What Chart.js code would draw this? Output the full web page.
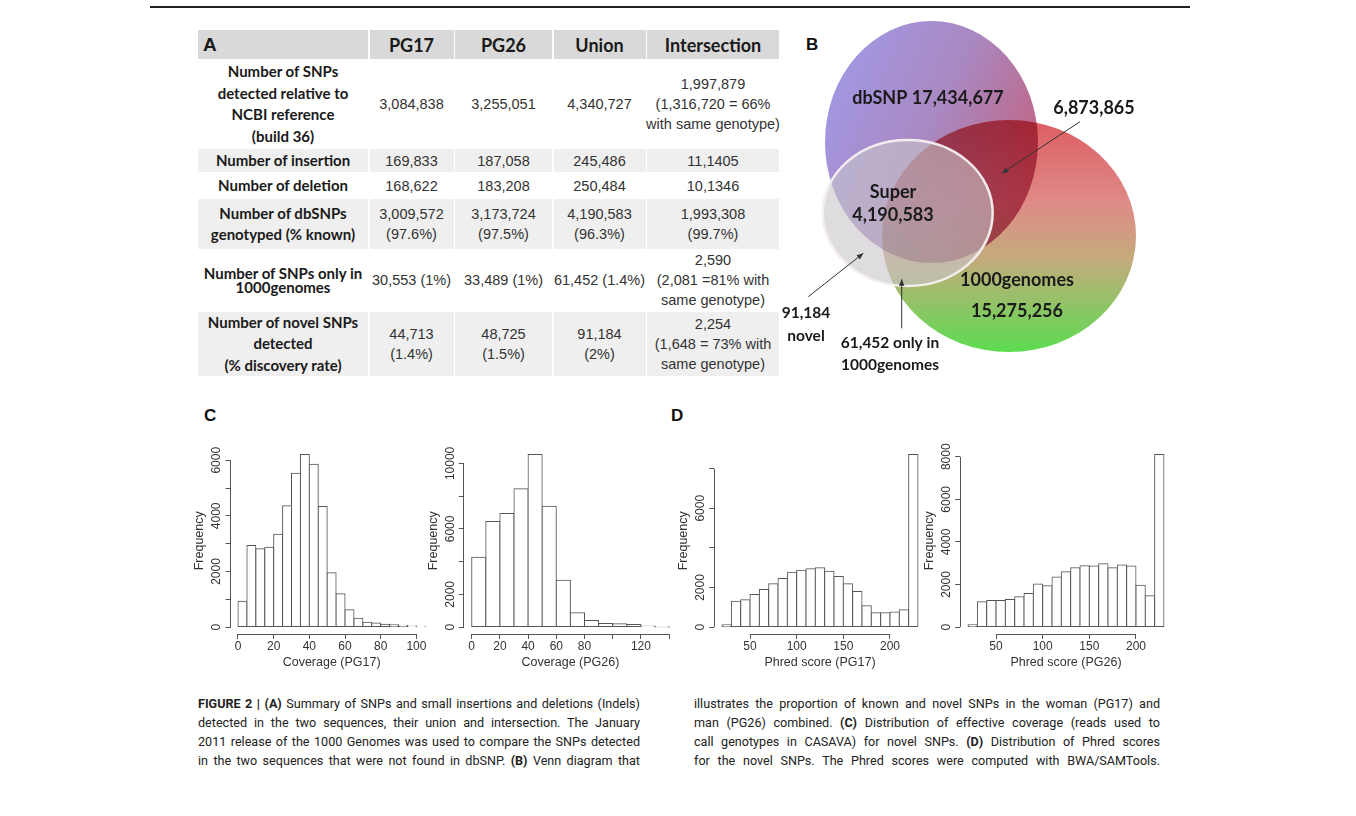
<!DOCTYPE html>
<html lang="en">
<head>
<meta charset="utf-8">
<title>Figure 2</title>
<script src="https://cdn.jsdelivr.net/npm/chart.js@4.4.1/dist/chart.umd.min.js"></script>
<style>
  html, body { margin: 0; padding: 0; background: #fff; }
  body { position: relative; width: 1356px; height: 816px; overflow: hidden; font-family: "Liberation Sans", Arial, sans-serif; color: #222; }
  #topRule { position: absolute; left: 150px; top: 6px; width: 1040px; height: 1.5px; background: #222; }
  #tableA { position: absolute; left: 198px; top: 30px; display: grid;
    grid-template-columns: 170px 84px 97px 92px 132px;
    grid-template-rows: 29px 88px 23px 24.5px 49.5px 61px 64px;
    column-gap: 1.5px; row-gap: 1.2px; }
  #tableA .cell { display: flex; flex-direction: column; align-items: center; justify-content: center; text-align: center; white-space: nowrap; }
  #tableA .head { background: #d9d9d9; font-family: Lato, sans-serif; font-weight: 700; font-size: 18px; color: #1a1a1a; }
  #tableA .corner { align-items: flex-start; padding-left: 5px; font-family: "Liberation Sans", Arial, sans-serif; font-size: 19px; }
  #tableA .lbl { font-family: Lato, sans-serif; font-weight: 700; font-size: 15px; line-height: 21.5px; color: #1a1a1a; }
  #tableA .tight { line-height: 14.5px; }
  #tableA .val { font-size: 14.5px; line-height: 20px; color: #333; }
  #tableA .shade { background: #efefef; }
  .panel { position: absolute; font-family: "Liberation Sans", Arial, sans-serif; font-weight: 700; font-size: 17px; color: #111; }
  canvas { position: absolute; }
  .cap { position: absolute; font-family: Roboto, sans-serif; font-size: 12.6px; line-height: 19px; color: #222;
    text-align: justify; text-align-last: justify; }
  .cap b { font-weight: 700; }
</style>
</head>
<body>
<div id="topRule"></div>
<div id="tableA"></div>

<div class="panel" style="left:806px; top:35px;">B</div>
<canvas id="venn" width="400" height="380" style="left:765px; top:10px;"></canvas>

<div class="panel" style="left:204px; top:406px;">C</div>
<div class="panel" style="left:671px; top:406px;">D</div>
<canvas id="covPG17" width="265" height="240" style="left:175px; top:440px;"></canvas>
<canvas id="covPG26" width="275" height="240" style="left:410px; top:440px;"></canvas>
<canvas id="phredPG17" width="272" height="240" style="left:660px; top:440px;"></canvas>
<canvas id="phredPG26" width="272" height="240" style="left:906px; top:440px;"></canvas>

<div class="cap" style="left:198px; top:694px; width:442px;"><b>FIGURE 2 | (A)</b> Summary of SNPs and small insertions and deletions (Indels)</div>
<div class="cap" style="left:198px; top:713px; width:442px;">detected in the two sequences, their union and intersection. The January</div>
<div class="cap" style="left:198px; top:732px; width:442px;">2011 release of the 1000 Genomes was used to compare the SNPs detected</div>
<div class="cap" style="left:198px; top:751px; width:442px;">in the two sequences that were not found in dbSNP. <b>(B)</b> Venn diagram that</div>
<div class="cap" style="left:694px; top:694px; width:466px;">illustrates the proportion of known and novel SNPs in the woman (PG17) and</div>
<div class="cap" style="left:694px; top:713px; width:466px;">man (PG26) combined. <b>(C)</b> Distribution of effective coverage (reads used to</div>
<div class="cap" style="left:694px; top:732px; width:466px;">call genotypes in CASAVA) for novel SNPs. <b>(D)</b> Distribution of Phred scores</div>
<div class="cap" style="left:694px; top:751px; width:466px;">for the novel SNPs. The Phred scores were computed with BWA/SAMTools.</div>

<script>
// ---------- A: tabla resumen ----------
const tableHeader = ["A", "PG17", "PG26", "Union", "Intersection"];
const rowLabels = [
  ["Number of SNPs", "detected relative to", "NCBI reference", "(build 36)"],
  ["Number of insertion"],
  ["Number of deletion"],
  ["Number of dbSNPs", "genotyped (% known)"],
  ["Number of SNPs only in", "1000genomes"],
  ["Number of novel SNPs", "detected", "(% discovery rate)"],
];
const pg17Values = [["3,084,838"], ["169,833"], ["168,622"], ["3,009,572", "(97.6%)"], ["30,553 (1%)"], ["44,713", "(1.4%)"]];
const pg26Values = [["3,255,051"], ["187,058"], ["183,208"], ["3,173,724", "(97.5%)"], ["33,489 (1%)"], ["48,725", "(1.5%)"]];
const unionValues = [["4,340,727"], ["245,486"], ["250,484"], ["4,190,583", "(96.3%)"], ["61,452 (1.4%)"], ["91,184", "(2%)"]];
const intersectionValues = [
  ["1,997,879", "(1,316,720 = 66%", "with same genotype)"],
  ["11,1405"],
  ["10,1346"],
  ["1,993,308", "(99.7%)"],
  ["2,590", "(2,081 =81% with", "same genotype)"],
  ["2,254", "(1,648 = 73% with", "same genotype)"],
];

// ---------- B: diagrama de Venn ----------
const vennSets = ["1000genomes", "dbSNP", "Super"];
const vennTotals = ["15,275,256", "17,434,677", "4,190,583"];
const vennShared = "6,873,865";
const vennNovel = "91,184";
const vennOnly1000g = "61,452";

// ---------- C: cobertura ----------
const covPG17Breaks = [0, 5, 10, 15, 20, 25, 30, 35, 40, 45, 50, 55, 60, 65, 70, 75, 80, 85, 90, 95, 100, 105];
const covPG17Counts = [925, 2930, 2820, 2870, 3340, 4360, 5530, 6210, 5860, 4340, 1950, 1200, 620, 320, 170, 145, 100, 85, 70, 40, 25];
const covPG17XTicks = [0, 20, 40, 60, 80, 100];
const covPG17XLabels = [0, 20, 40, 60, 80, 100];
const covPG17YTicks = [0, 1000, 2000, 3000, 4000, 5000, 6000];
const covPG17YLabels = [0, 2000, 4000, 6000];

const covPG26Breaks = [0, 10, 20, 30, 40, 50, 60, 70, 80, 90, 100, 110, 120, 130, 140];
const covPG26Counts = [4270, 6450, 6940, 8450, 10550, 7390, 2860, 880, 410, 220, 200, 160, 60, 10];
const covPG26XTicks = [0, 20, 40, 60, 80, 100, 120, 140];
const covPG26XLabels = [0, 20, 40, 60, 80, 120];
const covPG26YTicks = [0, 2000, 4000, 6000, 8000, 10000];
const covPG26YLabels = [0, 2000, 6000, 10000];

// ---------- D: Phred ----------
const phredBreaks = [20, 30, 40, 50, 60, 70, 80, 90, 100, 110, 120, 130, 140, 150, 160, 170, 180, 190, 200, 210, 220, 230];
const phredPG17Counts = [120, 1300, 1380, 1650, 1900, 2190, 2450, 2770, 2870, 2950, 3000, 2820, 2560, 2190, 1800, 1080, 730, 730, 760, 880, 8720];
const phredPG26Counts = [110, 1190, 1250, 1250, 1290, 1430, 1580, 2020, 1940, 2350, 2600, 2790, 2880, 2870, 2980, 2790, 2920, 2870, 1970, 1470, 8110];
const phredXTicks = [50, 100, 150, 200];
const phredYTicks = [0, 2000, 4000, 6000, 8000];
const phredPG17YLabels = [0, 2000, 6000];
const phredPG26YLabels = [0, 2000, 4000, 6000, 8000];

// construir la tabla
const tableEl = document.getElementById("tableA");
tableHeader.forEach((h, i) => {
  const c = document.createElement("div");
  c.className = "cell head" + (i === 0 ? " corner" : "");
  c.textContent = h;
  tableEl.appendChild(c);
});
const valueCols = [pg17Values, pg26Values, unionValues, intersectionValues];
rowLabels.forEach((lines, r) => {
  const shade = r % 2 === 1 ? " shade" : "";
  const lab = document.createElement("div");
  lab.className = "cell lbl" + shade + (r === 4 ? " tight" : "");
  lines.forEach((t) => { const s = document.createElement("div"); s.textContent = t; lab.appendChild(s); });
  tableEl.appendChild(lab);
  valueCols.forEach((col) => {
    const c = document.createElement("div");
    c.className = "cell val" + shade;
    col[r].forEach((t) => { const s = document.createElement("div"); s.textContent = t; c.appendChild(s); });
    tableEl.appendChild(c);
  });
});

Chart.defaults.font.family = "'Liberation Sans', Arial, sans-serif";
Chart.defaults.color = "#333";

// ejes estilo R: linea solo entre el primer y ultimo tick, etiquetas Y giradas
const rAxes = {
  id: "rAxes",
  afterDraw(chart, args, opts) {
    const { ctx, chartArea: a, scales: { x, y } } = chart;
    const xs = x.ticks.map((t) => t.value);
    const ys = y.ticks.map((t) => t.value);
    const yb = Math.round(a.bottom - 0.5) + 0.5;
    const xl = Math.round(a.left - 0.5) + 0.5;
    ctx.save();
    ctx.strokeStyle = "#555";
    ctx.lineWidth = 1;
    ctx.beginPath();
    ctx.moveTo(x.getPixelForValue(xs[0]), yb);
    ctx.lineTo(x.getPixelForValue(xs[xs.length - 1]), yb);
    ctx.moveTo(xl, y.getPixelForValue(ys[0]));
    ctx.lineTo(xl, y.getPixelForValue(ys[ys.length - 1]));
    ctx.stroke();
    ctx.fillStyle = "#333";
    ctx.font = "12px 'Liberation Sans', Arial, sans-serif";
    ctx.textAlign = "center";
    ctx.textBaseline = "middle";
    ys.forEach((v) => {
      if (!opts.labels.includes(v)) return;
      ctx.save();
      ctx.translate(a.left - 13.5, y.getPixelForValue(v));
      ctx.rotate(-Math.PI / 2);
      ctx.fillText(String(v), 0, 0);
      ctx.restore();
    });
    ctx.restore();
  },
};

function histogram(id, breaks, counts, xTicks, xLabels, yTicks, yLabels, xTitle, padLeft, padRight) {
  const lo = breaks[0];
  const hi = breaks[breaks.length - 1];
  const xPad = (hi - lo) * 0.04;
  const top = Math.max(...counts);
  const yPad = top * 0.04;
  new Chart(document.getElementById(id), {
    type: "bar",
    data: {
      datasets: [{
        data: counts.map((c, i) => ({ x: (breaks[i] + breaks[i + 1]) / 2, y: c })),
        backgroundColor: "#fff",
        borderColor: "#555",
        borderWidth: 1,
        borderSkipped: false,
        inflateAmount: 0.5,
        barPercentage: 1,
        categoryPercentage: 1,
      }],
    },
    options: {
      responsive: false,
      animation: false,
      events: [],
      layout: { padding: { left: padLeft, top: 7.5, right: padRight, bottom: 0 } },
      plugins: { legend: { display: false }, tooltip: { enabled: false }, rAxes: { labels: yLabels } },
      scales: {
        x: {
          type: "linear", min: lo - xPad, max: hi + xPad, offset: false,
          afterBuildTicks: (s) => { s.ticks = xTicks.map((v) => ({ value: v })); },
          afterFit: (s) => { s.height = 46; },
          border: { display: false },
          grid: { offset: false, drawOnChartArea: false, tickLength: 5, color: "#555" },
          ticks: { autoSkip: false, maxRotation: 0, padding: 0.5, font: { size: 12 }, color: "#333",
            callback: (v) => (xLabels.includes(v) ? String(v) : "") },
          title: { display: true, text: xTitle, font: { size: 12.5 }, color: "#333", padding: { top: 0, bottom: 9.5 } },
        },
        y: {
          type: "linear", min: -yPad, max: top + yPad,
          afterBuildTicks: (s) => { s.ticks = yTicks.map((v) => ({ value: v })); },
          afterFit: (s) => { s.width = 45; },
          border: { display: false },
          grid: { drawOnChartArea: false, tickLength: 5, color: "#555" },
          ticks: { display: false },
          title: { display: true, text: "Frequency", font: { size: 12.5 }, color: "#333", padding: { top: 7, bottom: 0 } },
        },
      },
    },
    plugins: [rAxes],
  });
}

histogram("covPG17", covPG17Breaks, covPG17Counts, covPG17XTicks, covPG17XLabels, covPG17YTicks, covPG17YLabels, "Coverage (PG17)", 10.5, 7.2);
histogram("covPG26", covPG26Breaks, covPG26Counts, covPG26XTicks, covPG26XLabels, covPG26YTicks, covPG26YLabels, "Coverage (PG26)", 8.8, 8);
histogram("phredPG17", phredBreaks, phredPG17Counts, phredXTicks, phredXTicks, phredYTicks, phredPG17YLabels, "Phred score (PG17)", 9.2, 6.2);
histogram("phredPG26", phredBreaks, phredPG26Counts, phredXTicks, phredXTicks, phredYTicks, phredPG26YLabels, "Phred score (PG26)", 9.2, 6.2);

// ---------- Venn ----------
// geometria del esquema (coordenadas de pagina, mismo orden que vennSets)
const vennGeometry = [
  { cx: 1009, cy: 236, rx: 127, ry: 116 },
  { cx: 931.5, cy: 142, rx: 106.5, ry: 121 },
  { cx: 907.7, cy: 213, rx: 85, ry: 73 },
];
const vennTexts = [
  { lines: [vennSets[1] + " " + vennTotals[1]], x: 928, y: 98, size: 18 },
  { lines: [vennShared], x: 1094, y: 108, size: 18 },
  { lines: [vennSets[2], vennTotals[2]], x: 893, y: 192.5, size: 18, gap: 22.5 },
  { lines: [vennSets[0], vennTotals[0]], x: 1017, y: 280, size: 18, gap: 31.5 },
  { lines: [vennNovel, "novel"], x: 806, y: 313.3, size: 15.5, gap: 22.5 },
  { lines: [vennOnly1000g + " only in", vennSets[0]], x: 890, y: 343.3, size: 15.5, gap: 21.7 },
];
const vennArrows = [
  [1080, 121.7, 1001.7, 173.3],
  [808.3, 296.7, 863.3, 253.3],
  [901.7, 328.3, 901.7, 279.3],
];

function arrow(ctx, x1, y1, x2, y2) {
  const ang = Math.atan2(y2 - y1, x2 - x1);
  ctx.beginPath();
  ctx.moveTo(x1, y1);
  ctx.lineTo(x2, y2);
  ctx.stroke();
  ctx.beginPath();
  ctx.moveTo(x2, y2);
  ctx.lineTo(x2 - 7 * Math.cos(ang - 0.4), y2 - 7 * Math.sin(ang - 0.4));
  ctx.lineTo(x2 - 7 * Math.cos(ang + 0.4), y2 - 7 * Math.sin(ang + 0.4));
  ctx.closePath();
  ctx.fill();
}

const vennPlugin = {
  id: "vennShapes",
  beforeDatasetsDraw(chart) {
    const { ctx, scales: { x, y } } = chart;
    const pts = chart.getDatasetMeta(0).data;
    const g = vennGeometry.map((c, i) => ({
      px: pts[i].x, py: pts[i].y,
      rx: x.getPixelForValue(c.cx + c.rx) - pts[i].x,
      ry: y.getPixelForValue(c.cy + c.ry) - pts[i].y,
    }));
    const ell = (e) => { ctx.beginPath(); ctx.ellipse(e.px, e.py, e.rx, e.ry, 0, 0, Math.PI * 2); };
    ctx.save();
    // 1000genomes: rojo arriba, verde abajo
    let gr = ctx.createLinearGradient(0, g[0].py - g[0].ry, 0, g[0].py + g[0].ry);
    gr.addColorStop(0, "#dc5c62");
    gr.addColorStop(0.35, "#df8a88");
    gr.addColorStop(0.6, "#c4ab7c");
    gr.addColorStop(1, "#5cdc50");
    ell(g[0]); ctx.fillStyle = gr; ctx.fill();
    // dbSNP: lila a malva
    gr = ctx.createLinearGradient(g[1].px - g[1].rx, g[1].py - g[1].ry * 0.4, g[1].px + g[1].rx, g[1].py + g[1].ry * 0.4);
    gr.addColorStop(0, "#a297e2");
    gr.addColorStop(0.5, "#aa87bf");
    gr.addColorStop(1, "#c45f7a");
    ctx.globalCompositeOperation = "multiply";
    ell(g[1]); ctx.fillStyle = gr; ctx.fill();
    ctx.globalCompositeOperation = "source-over";
    // Super: velo gris translucido
    ell(g[2]);
    ctx.fillStyle = "rgba(200,196,202,0.6)";
    ctx.fill();
    ctx.lineWidth = 2.5;
    ctx.strokeStyle = "rgba(246,240,240,0.95)";
    ctx.stroke();
    ctx.restore();
  },
  afterDatasetsDraw(chart) {
    const { ctx, scales: { x, y } } = chart;
    ctx.save();
    ctx.strokeStyle = "#333";
    ctx.fillStyle = "#333";
    ctx.lineWidth = 1;
    vennArrows.forEach((a) => arrow(ctx, x.getPixelForValue(a[0]), y.getPixelForValue(a[1]), x.getPixelForValue(a[2]), y.getPixelForValue(a[3])));
    ctx.fillStyle = "#1a1a1a";
    ctx.textAlign = "center";
    ctx.textBaseline = "middle";
    vennTexts.forEach((t) => {
      ctx.font = "700 " + t.size + "px Lato, sans-serif";
      t.lines.forEach((s, i) => ctx.fillText(s, x.getPixelForValue(t.x), y.getPixelForValue(t.y + i * (t.gap || 0))));
    });
    ctx.restore();
  },
};

new Chart(document.getElementById("venn"), {
  type: "scatter",
  data: { datasets: [{ data: vennGeometry.map((c) => ({ x: c.cx, y: c.cy })), pointRadius: 0 }] },
  options: {
    responsive: false,
    animation: false,
    events: [],
    layout: { padding: 0 },
    plugins: { legend: { display: false }, tooltip: { enabled: false } },
    scales: {
      x: { type: "linear", display: false, min: 765, max: 1165 },
      y: { type: "linear", display: false, min: 10, max: 390, reverse: true },
    },
  },
  plugins: [vennPlugin],
});
</script>
</body>
</html>
